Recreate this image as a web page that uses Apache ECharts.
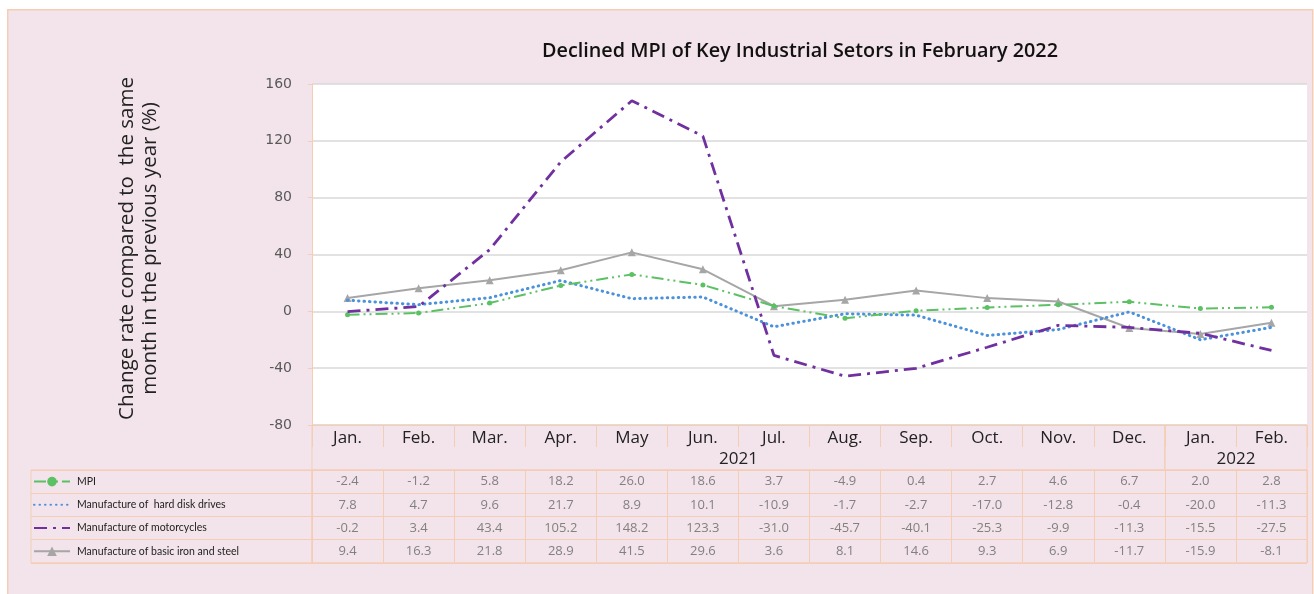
<!DOCTYPE html>
<html><head><meta charset="utf-8">
<script src="https://cdn.jsdelivr.net/npm/echarts@6/dist/echarts.min.js"></script>
<style>html,body{margin:0;padding:0;background:#fff}#c{width:1314px;height:594px}</style>
</head><body><div id="c"></div>
<script>
// ---- data ----
const months = ['Jan.','Feb.','Mar.','Apr.','May','Jun.','Jul.','Aug.','Sep.','Oct.','Nov.','Dec.','Jan.','Feb.'];
const years = ['2021','2022'];
const yearSpans = [12, 2];
const seriesNames = ['MPI','Manufacture of  hard disk drives','Manufacture of motorcycles','Manufacture of basic iron and steel'];
const mpi   = [-2.4,-1.2,5.8,18.2,26.0,18.6,3.7,-4.9,0.4,2.7,4.6,6.7,2.0,2.8];
const hdd   = [7.8,4.7,9.6,21.7,8.9,10.1,-10.9,-1.7,-2.7,-17.0,-12.8,-0.4,-20.0,-11.3];
const moto  = [-0.2,3.4,43.4,105.2,148.2,123.3,-31.0,-45.7,-40.1,-25.3,-9.9,-11.3,-15.5,-27.5];
const steel = [9.4,16.3,21.8,28.9,41.5,29.6,3.6,8.1,14.6,9.3,6.9,-11.7,-15.9,-8.1];
const yTicks = [-80,-40,0,40,80,120,160];
const titleText = 'Declined MPI of Key Industrial Setors in February 2022';
const yName = 'Change rate compared to  the same\nmonth in the previous year (%)';

// ---- layout / style ----
const PEACH = '#f5cdb5';
const L = 312, R = 1307, W = R - L, CW = W / months.length;
const ROWS_TOP = 470, ROW_H = 23.2;
const FONT = "'Open Sans', sans-serif";
const seriesValues = [mpi, hdd, moto, steel];
const lineOnly = [false, true, true, false];

const tableData = [];
seriesValues.forEach((arr, s) => arr.forEach((v, m) => tableData.push([m, s, v])));

const chart = echarts.init(document.getElementById('c'), null, {renderer: 'canvas'});
const option = {
  backgroundColor: '#ffffff',
  animation: false,
  graphic: [{
    type: 'rect', left: 7, top: 9, z: -10, silent: true,
    shape: {width: 1305, height: 600},
    style: {fill: '#f2e4ea', stroke: PEACH, lineWidth: 1.5}
  }],
  title: {
    text: titleText, left: 537, top: 36,
    textStyle: {fontFamily: FONT, fontSize: 19.8, fontWeight: 600, color: '#111'}
  },
  legend: {
    orient: 'vertical', left: 33, top: ROWS_TOP + 5.6, padding: 0, selectedMode: false,
    itemWidth: 36, itemHeight: 12, itemGap: ROW_H - 12,
    data: seriesNames.map((n, i) => lineOnly[i] ? {name: n, itemStyle: {opacity: 0}} : {name: n}),
    textStyle: {fontFamily: "'Lato', sans-serif", fontSize: 10.5, color: '#222', lineHeight: 12, padding: [0, 0, 0, 2]}
  },
  grid: [
    {left: L, top: 84, width: W, height: 341, show: true, backgroundColor: '#fff', borderWidth: 0},
    {left: L, top: 425, width: CW * yearSpans[0], height: 45, show: true, borderColor: PEACH, borderWidth: 1, backgroundColor: 'transparent'},
    {left: L + CW * yearSpans[0], top: 425, width: CW * yearSpans[1], height: 45, show: true, borderColor: PEACH, borderWidth: 1, backgroundColor: 'transparent'},
    {left: L, top: ROWS_TOP, width: W, height: ROW_H * 4, show: true, borderColor: PEACH, borderWidth: 1, backgroundColor: 'transparent'},
    {left: 31, top: ROWS_TOP, width: L - 31, height: ROW_H * 4, show: true, borderColor: PEACH, borderWidth: 1, backgroundColor: 'transparent'}
  ],
  xAxis: [
    {gridIndex: 0, type: 'category', data: months, boundaryGap: true,
     axisLine: {show: true, onZero: false, lineStyle: {color: PEACH, width: 1}},
     axisTick: {show: true, interval: 0, length: 22, lineStyle: {color: PEACH}},
     axisLabel: {interval: 0, margin: 5, fontSize: 17, color: '#222', fontFamily: FONT},
     splitLine: {show: false}},
    {gridIndex: 1, type: 'category', data: [years[0]],
     axisLine: {show: false}, axisTick: {show: false},
     axisLabel: {inside: true, margin: 2, fontSize: 17, color: '#222', fontFamily: FONT}},
    {gridIndex: 2, type: 'category', data: [years[1]],
     axisLine: {show: false}, axisTick: {show: false},
     axisLabel: {inside: true, margin: 2, fontSize: 17, color: '#222', fontFamily: FONT}},
    {gridIndex: 3, type: 'category', data: months, boundaryGap: true,
     axisLine: {show: false}, axisTick: {show: false}, axisLabel: {show: false},
     splitLine: {show: true, interval: 0, lineStyle: {color: PEACH, width: 1}}},
    {gridIndex: 4, type: 'category', data: [''],
     axisLine: {show: false}, axisTick: {show: false}, axisLabel: {show: false}, splitLine: {show: false}}
  ],
  yAxis: [
    {gridIndex: 0, type: 'value', min: yTicks[0], max: yTicks[yTicks.length - 1], interval: yTicks[1] - yTicks[0],
     axisLine: {show: true, lineStyle: {color: PEACH}},
     axisTick: {show: true, length: 4, lineStyle: {color: PEACH}},
     axisLabel: {margin: 20, fontSize: 14, color: '#595959', fontFamily: "'DejaVu Sans', sans-serif"},
     splitLine: {show: true, lineStyle: {color: '#d9d9d9', width: 1.5}},
     name: yName, nameLocation: 'middle', nameGap: 150, nameRotate: 90,
     nameTextStyle: {fontSize: 20.5, color: '#222', fontFamily: FONT, lineHeight: 23, align: 'center', padding: [0, 0, 0, 12]}},
    {gridIndex: 1, type: 'value', show: false},
    {gridIndex: 2, type: 'value', show: false},
    {gridIndex: 3, type: 'category', data: seriesNames, inverse: true,
     axisLine: {show: false}, axisTick: {show: false}, axisLabel: {show: false},
     splitLine: {show: true, interval: 0, lineStyle: {color: PEACH, width: 1}}},
    {gridIndex: 4, type: 'category', data: seriesNames, inverse: true,
     axisLine: {show: false}, axisTick: {show: false}, axisLabel: {show: false},
     splitLine: {show: true, interval: 0, lineStyle: {color: PEACH, width: 1}}}
  ],
  series: [
    {name: seriesNames[0], type: 'line', data: mpi, xAxisIndex: 0, yAxisIndex: 0,
     symbol: 'circle', symbolSize: 5, z: 4,
     itemStyle: {color: '#5cc064'},
     lineStyle: {color: '#5cc064', width: 2, type: [12, 4, 2, 4, 2, 4]}},
    {name: seriesNames[1], type: 'line', data: hdd, xAxisIndex: 0, yAxisIndex: 0,
     symbol: 'none', z: 3,
     itemStyle: {color: '#4a92dc'},
     lineStyle: {color: '#4a92dc', width: 3, type: [0.5, 5], cap: 'round'}},
    {name: seriesNames[2], type: 'line', data: moto, xAxisIndex: 0, yAxisIndex: 0,
     symbol: 'none', z: 5,
     itemStyle: {color: '#7030a0'},
     lineStyle: {color: '#7030a0', width: 2.8, type: [13, 6, 3, 6]}},
    {name: seriesNames[3], type: 'line', data: steel, xAxisIndex: 0, yAxisIndex: 0,
     symbol: 'triangle', symbolSize: 8, z: 2,
     itemStyle: {color: '#a6a6a6'},
     lineStyle: {color: '#a6a6a6', width: 2}},
    {name: 'table', type: 'scatter', xAxisIndex: 3, yAxisIndex: 3, data: tableData,
     symbolSize: 1, itemStyle: {color: 'rgba(0,0,0,0)'}, silent: true,
     label: {show: true, position: 'inside', formatter: p => p.value[2].toFixed(1),
             fontSize: 13, color: '#666', fontFamily: FONT}}
  ]
};
chart.setOption(option);
</script></body></html>
